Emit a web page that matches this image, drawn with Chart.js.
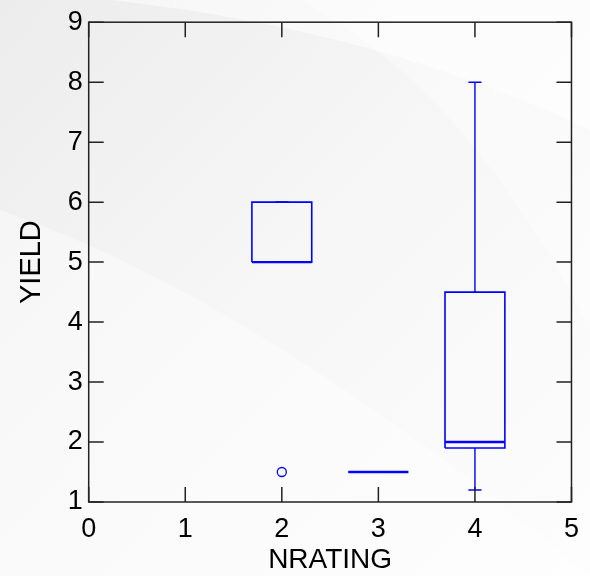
<!DOCTYPE html>
<html>
<head>
<meta charset="utf-8">
<title>YIELD by NRATING</title>
<script src="https://cdn.jsdelivr.net/npm/chart.js@4.4.0/dist/chart.umd.min.js"></script>
<style>
  html, body { margin: 0; padding: 0; background: #f0f0f0; }
  #wrap { width: 590px; height: 576px; position: relative; }
</style>
</head>
<body>
<div id="wrap"><canvas id="c" width="590" height="576"></canvas></div>
<script>
// Box-plot summary per NRATING group
const categories  = [2, 3, 4];
const whiskerLow  = [5, 1.5, 1.2];
const quartile1   = [5, 1.5, 1.9];
const medians     = [5, 1.5, 2.0];
const quartile3   = [6, 1.5, 4.5];
const whiskerHigh = [6, 1.5, 8];

// Points beyond the whiskers
const outlierX = [2];
const outlierY = [1.5];

// Axis ticks
const xTicks = [0, 1, 2, 3, 4, 5];
const yTicks = [1, 2, 3, 4, 5, 6, 7, 8, 9];

const BLUE = '#0000ff';
const FONT = "'Liberation Sans', Arial, Helvetica, sans-serif";
const BOX_HALF = 0.31;   // half box width in x units
const CAP_HALF = 0.068;  // half whisker-cap width in x units

function seg(points, width) {
  return {
    type: 'scatter', data: points, showLine: true,
    borderColor: BLUE, backgroundColor: BLUE, borderWidth: width,
    pointRadius: 0, pointHoverRadius: 0, tension: 0
  };
}

const datasets = [];
categories.forEach((c, i) => {
  const lo = whiskerLow[i], q1 = quartile1[i], md = medians[i], q3 = quartile3[i], hi = whiskerHigh[i];
  // whiskers
  datasets.push(seg([{x: c, y: q3}, {x: c, y: hi}], 1.4));
  datasets.push(seg([{x: c, y: lo}, {x: c, y: q1}], 1.4));
  // caps
  datasets.push(seg([{x: c - CAP_HALF, y: hi}, {x: c + CAP_HALF, y: hi}], 1.6));
  datasets.push(seg([{x: c - CAP_HALF, y: lo}, {x: c + CAP_HALF, y: lo}], 1.6));
  // box
  datasets.push(seg([
    {x: c - BOX_HALF, y: q1}, {x: c + BOX_HALF, y: q1},
    {x: c + BOX_HALF, y: q3}, {x: c - BOX_HALF, y: q3},
    {x: c - BOX_HALF, y: q1}
  ], 1.6));
  // median
  datasets.push(seg([{x: c - BOX_HALF, y: md}, {x: c + BOX_HALF, y: md}], 2.4));
});
datasets.push({
  type: 'scatter',
  data: outlierX.map((x, i) => ({x, y: outlierY[i]})),
  pointStyle: 'circle', pointRadius: 4.5, pointHoverRadius: 4.5,
  borderColor: BLUE, backgroundColor: 'rgba(0,0,0,0)', borderWidth: 1.3, showLine: false
});

// Soft grey backdrop with light sweeping bands
const backdrop = {
  id: 'backdrop',
  beforeDraw(chart) {
    const ctx = chart.ctx, W = chart.width, H = chart.height;
    ctx.save();
    const g = ctx.createLinearGradient(0, 0, W, H);
    g.addColorStop(0, '#ececec');
    g.addColorStop(0.45, '#f6f6f6');
    g.addColorStop(1, '#fdfdfd');
    ctx.fillStyle = g;
    ctx.fillRect(0, 0, W, H);
    // lower sweep
    ctx.fillStyle = 'rgba(255,255,255,0.4)';
    ctx.beginPath();
    ctx.moveTo(0, 210);
    ctx.quadraticCurveTo(260, 300, W, H);
    ctx.lineTo(0, H);
    ctx.closePath();
    ctx.fill();
    // upper bands
    ctx.fillStyle = 'rgba(255,255,255,0.5)';
    ctx.beginPath();
    ctx.moveTo(110, 0);
    ctx.quadraticCurveTo(380, 30, W, 130);
    ctx.lineTo(W, 0);
    ctx.closePath();
    ctx.fill();
    ctx.fillStyle = 'rgba(255,255,255,0.35)';
    ctx.beginPath();
    ctx.moveTo(300, 0);
    ctx.quadraticCurveTo(470, 90, W, 330);
    ctx.lineTo(W, 0);
    ctx.closePath();
    ctx.fill();
    ctx.restore();
  }
};

// Closed frame with inward tick marks on all four sides
const frame = {
  id: 'frame',
  afterDraw(chart) {
    const {ctx, chartArea: a, scales: {x, y}} = chart;
    const TL = 15;
    ctx.save();
    ctx.strokeStyle = '#222222';
    ctx.lineWidth = 1.5;
    ctx.strokeRect(a.left, a.top, a.right - a.left, a.bottom - a.top);
    ctx.beginPath();
    x.ticks.forEach(t => {
      const px = x.getPixelForValue(t.value);
      ctx.moveTo(px, a.bottom); ctx.lineTo(px, a.bottom - TL);
      ctx.moveTo(px, a.top);    ctx.lineTo(px, a.top + TL);
    });
    y.ticks.forEach(t => {
      const py = y.getPixelForValue(t.value);
      ctx.moveTo(a.left, py);  ctx.lineTo(a.left + TL, py);
      ctx.moveTo(a.right, py); ctx.lineTo(a.right - TL, py);
    });
    ctx.stroke();
    ctx.restore();
  }
};

new Chart(document.getElementById('c'), {
  type: 'scatter',
  data: { datasets },
  options: {
    responsive: false,
    animation: false,
    events: [],
    layout: { padding: { top: 16, right: 15.7, left: 0, bottom: 0 } },
    plugins: { legend: { display: false }, tooltip: { enabled: false } },
    scales: {
      x: {
        type: 'linear', min: 0, max: 5,
        afterBuildTicks(s) { s.ticks = xTicks.map(v => ({value: v})); },
        afterFit(s) { s.height = 74; },
        ticks: { color: '#000', padding: 11, font: { family: FONT, size: 27 } },
        grid: { display: false, drawTicks: false },
        border: { display: false },
        title: { display: true, text: 'NRATING', color: '#000',
                 font: { family: FONT, size: 28 }, padding: { top: 0, bottom: -1 } }
      },
      y: {
        type: 'linear', min: 1, max: 9,
        afterBuildTicks(s) { s.ticks = yTicks.map(v => ({value: v})); },
        afterFit(s) { s.width = 88.7; },
        ticks: { color: '#000', padding: 6, font: { family: FONT, size: 27 } },
        grid: { display: false, drawTicks: false },
        border: { display: false },
        title: { display: true, text: 'YIELD', color: '#000',
                 font: { family: FONT, size: 29 }, padding: { top: 15, bottom: 0 } }
      }
    }
  },
  plugins: [backdrop, frame]
});
</script>
</body>
</html>
